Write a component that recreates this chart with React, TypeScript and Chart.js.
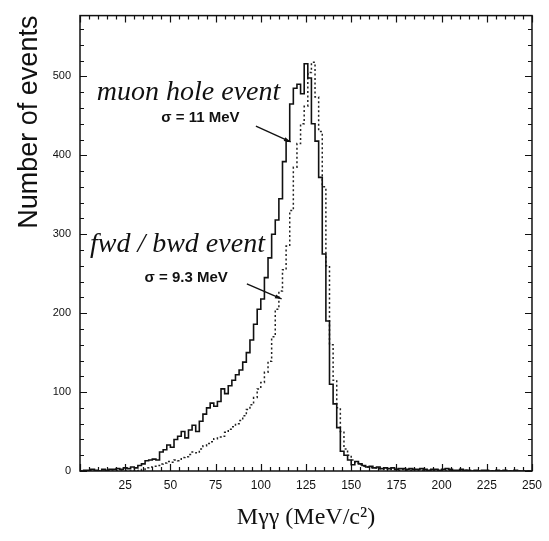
import React, { useEffect, useRef } from "react";
import { Chart, registerables } from "chart.js";

Chart.register(...registerables);

// Histogram binning (MeV)
const BIN_START = 0;
const BIN_WIDTH = 2;

// muon hole event (solid), counts per 2 MeV bin from 0 to 250 MeV
const muonHole = [
  1, 0, 1, 1, 2, 1, 0, 2, 1, 2,
  2, 3, 2, 4, 3, 5, 4, 7, 9, 13,
  14, 15, 14, 24, 27, 33, 30, 40, 44, 50,
  42, 52, 58, 50, 63, 72, 80, 86, 82, 88,
  104, 98, 108, 115, 122, 128, 138, 150, 166, 186,
  205, 218, 245, 270, 300, 318, 345, 392, 418, 465,
  485, 490, 478, 516, 498, 440, 418, 372, 275, 190,
  110, 85, 55, 25, 20, 14, 8, 12, 9, 7,
  5, 6, 4, 5, 3, 4, 3, 4, 2, 3,
  3, 2, 3, 2, 2, 3, 2, 1, 2, 2,
  1, 2, 3, 2, 1, 1, 2, 1, 1, 0,
  1, 0, 1, 1, 0, 0, 1, 0, 1, 0,
  0, 1, 0, 0, 0,
];

// fwd / bwd event (dotted), counts per 2 MeV bin from 0 to 250 MeV
const fwdBwd = [
  0, 0, 0, 0, 0, 0, 0, 0, 0, 0,
  0, 0, 0, 0, 0, 0, 1, 0, 2, 4,
  5, 6, 7, 9, 10, 12, 11, 14, 13, 17,
  18, 21, 24, 23, 28, 32, 35, 37, 41, 43,
  44, 49, 53, 56, 60, 64, 70, 78, 84, 93,
  104, 112, 125, 139, 170, 205, 228, 255, 285, 330,
  385, 415, 440, 462, 505, 518, 474, 430, 360, 260,
  160, 115, 80, 50, 28, 20, 14, 10, 8, 6,
  5, 4, 4, 3, 3, 2, 3, 2, 2, 1,
  2, 1, 1, 2, 1, 1, 0, 1, 1, 0,
  1, 0, 0, 1, 0, 0, 0, 1, 0, 0,
  0, 0, 0, 0, 0, 0, 0, 0, 0, 0,
  0, 0, 0, 0, 0,
];

// axes
const X_MIN = 0;
const X_MAX = 250;
const X_MAJOR = 25;
const X_MINOR = 5;
const Y_MIN = 0;
const Y_MAX = 577;
const Y_MAJOR = 100;
const Y_MINOR = 20;

const X_TITLE = "Mγγ (MeV/c²)";
const Y_TITLE = "Number of events";

function toSteps(values: number[]) {
  const pts = values.map((v, i) => ({ x: BIN_START + i * BIN_WIDTH, y: v }));
  pts.push({ x: BIN_START + values.length * BIN_WIDTH, y: values[values.length - 1] });
  return pts;
}

const framePlugin = {
  id: "frame",
  afterDraw(chart: any) {
    const { ctx, chartArea: a, scales } = chart;
    const xs = scales.x;
    const ys = scales.y;
    ctx.save();
    ctx.strokeStyle = "#111";
    ctx.lineWidth = 1.5;
    ctx.strokeRect(a.left, a.top, a.right - a.left, a.bottom - a.top);
    ctx.lineWidth = 1.2;
    ctx.beginPath();
    for (let v = X_MIN; v <= X_MAX; v += X_MINOR) {
      const px = Math.round(xs.getPixelForValue(v)) + 0.5;
      const len = v % X_MAJOR === 0 ? 7 : 4;
      ctx.moveTo(px, a.bottom);
      ctx.lineTo(px, a.bottom - len);
      ctx.moveTo(px, a.top);
      ctx.lineTo(px, a.top + len);
    }
    for (let v = Y_MIN; v <= Y_MAX; v += Y_MINOR) {
      const py = Math.round(ys.getPixelForValue(v)) + 0.5;
      const len = v % Y_MAJOR === 0 ? 7 : 4;
      ctx.moveTo(a.left, py);
      ctx.lineTo(a.left + len, py);
      ctx.moveTo(a.right, py);
      ctx.lineTo(a.right - len, py);
    }
    ctx.stroke();

    // annotations
    const P = (x: number, y: number) => [xs.getPixelForValue(x), ys.getPixelForValue(y)];
    ctx.fillStyle = "#111";
    ctx.textBaseline = "middle";
    ctx.textAlign = "left";
    ctx.font = 'italic 28px "Liberation Serif"';
    let [tx, ty] = P(9.3, 479);
    ctx.fillText("muon hole event", tx, ty);
    [tx, ty] = P(5.5, 287);
    ctx.fillText("fwd / bwd event", tx, ty);
    ctx.font = 'bold 15px "Liberation Sans"';
    [tx, ty] = P(45, 448);
    ctx.fillText("σ = 11 MeV", tx, ty);
    [tx, ty] = P(35.7, 245);
    ctx.fillText("σ = 9.3 MeV", tx, ty);

    const arrow = (x0: number, y0: number, x1: number, y1: number) => {
      const [ax, ay] = P(x0, y0);
      const [bx, by] = P(x1, y1);
      ctx.lineWidth = 1.3;
      ctx.beginPath();
      ctx.moveTo(ax, ay);
      ctx.lineTo(bx, by);
      ctx.stroke();
      const ang = Math.atan2(by - ay, bx - ax);
      const h = 7;
      ctx.beginPath();
      ctx.moveTo(bx, by);
      ctx.lineTo(bx - h * Math.cos(ang - 0.3), by - h * Math.sin(ang - 0.3));
      ctx.lineTo(bx - h * Math.cos(ang + 0.3), by - h * Math.sin(ang + 0.3));
      ctx.closePath();
      ctx.fill();
    };
    arrow(97.3, 437, 116.5, 417);
    arrow(92.3, 237, 111.5, 218);
    ctx.restore();
  },
};

export default function App() {
  const ref = useRef<HTMLCanvasElement>(null);
  useEffect(() => {
    if (!ref.current) return;
    const chart = new Chart(ref.current, {
      type: "line",
      data: {
        datasets: [
          {
            label: "muon hole event",
            data: toSteps(muonHole),
            stepped: "after",
            borderColor: "#111",
            borderWidth: 1.6,
            pointRadius: 0,
            fill: false,
          },
          {
            label: "fwd / bwd event",
            data: toSteps(fwdBwd),
            stepped: "after",
            borderColor: "#222",
            borderWidth: 1.5,
            borderDash: [2, 2.5],
            pointRadius: 0,
            fill: false,
          },
        ],
      },
      options: {
        responsive: false,
        animation: false,
        layout: { padding: { top: 10, right: 14, left: 0, bottom: 0 } },
        plugins: { legend: { display: false }, tooltip: { enabled: false } },
        scales: {
          x: {
            type: "linear",
            min: X_MIN,
            max: X_MAX,
            grid: { display: false, drawTicks: false },
            border: { display: false },
            ticks: {
              stepSize: X_MAJOR,
              color: "#111",
              padding: 7,
              maxRotation: 0,
              font: { family: '"Liberation Sans"', size: 12 },
              callback: (v: any) => (Number(v) === 0 ? "" : String(v)),
            },
            title: {
              display: true,
              text: X_TITLE,
              color: "#111",
              font: { family: '"Liberation Serif"', size: 24 },
              padding: { top: 0, bottom: 9 },
            },
            afterFit: (s: any) => {
              s.height = 70;
            },
          },
          y: {
            type: "linear",
            min: Y_MIN,
            max: Y_MAX,
            grid: { display: false, drawTicks: false },
            border: { display: false },
            ticks: {
              stepSize: Y_MAJOR,
              includeBounds: false,
              color: "#111",
              padding: 9,
              font: { family: '"Liberation Sans"', size: 11 },
            },
            title: {
              display: true,
              text: Y_TITLE,
              align: "end",
              color: "#111",
              font: { family: '"Liberation Sans"', size: 27 },
              padding: { top: 13, bottom: 0 },
            },
            afterFit: (s: any) => {
              s.width = 80;
            },
          },
        },
      },
      plugins: [framePlugin],
    } as any);
    return () => chart.destroy();
  }, []);
  return (
    <div style={{ position: "absolute", left: 0, top: 0, width: 549, height: 541, background: "#fff" }}>
      <canvas ref={ref} width={549} height={541} style={{ display: "block" }} />
    </div>
  );
}
